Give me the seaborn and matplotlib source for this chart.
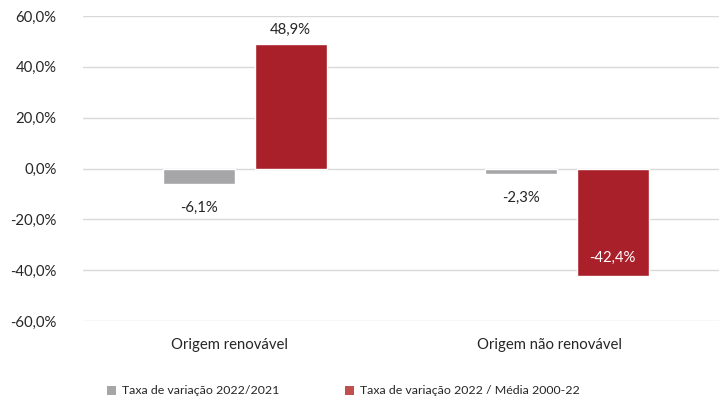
import pandas as pd
import numpy as np
import seaborn as sns
import matplotlib.pyplot as plt
from matplotlib.patches import Patch
from matplotlib.ticker import FuncFormatter

## data
categorias = ['Origem renovável', 'Origem não renovável']
series = ['Taxa de variação 2022/2021', 'Taxa de variação 2022 / Média 2000-22']
var_2022_2021 = [-6.1, -2.3]
var_2022_media = [48.9, -42.4]

df = pd.DataFrame({
    'categoria': categorias * 2,
    'serie': [series[0]] * 2 + [series[1]] * 2,
    'valor': var_2022_2021 + var_2022_media,
})

cores = {series[0]: '#A6A6A9', series[1]: '#A9202A'}
cores_legenda = [cores[series[0]], '#C0504D']

sns.set_theme(style='white')
plt.rcParams['font.family'] = ['Lato', 'DejaVu Sans']

fig = plt.figure(figsize=(7.19, 3.98), dpi=100)
ax = fig.add_axes([83 / 719, 1 - 321 / 398, 636 / 719, (321 - 16) / 398])

sns.barplot(data=df, x='categoria', y='valor', hue='serie', palette=cores,
            width=0.568, gap=0.213, saturation=1, order=categorias, hue_order=series,
            legend=False, ax=ax, zorder=3)

ax.set_xlim(-0.503, 1.472)
ax.set_ylim(-60, 60)
ax.set_yticks(np.arange(-60, 61, 20))
ax.yaxis.set_major_formatter(FuncFormatter(lambda v, p: f'{v:.1f}%'.replace('.', ',')))
# rótulos das categorias um pouco à esquerda do centro do grupo (como no original)
ax.set_xticks([-0.047, 0.947], categorias)
ax.grid(axis='y', color='#D9D9D9', linewidth=1, zorder=0)
for s in ax.spines.values():
    s.set_visible(False)
ax.tick_params(axis='both', length=0, labelsize=10.7, colors='#262626')
ax.tick_params(axis='y', pad=19)
ax.tick_params(axis='x', pad=12)
ax.set_xlabel('')
ax.set_ylabel('')

# rótulos
for cont, serie in zip(ax.containers, series):
    for bar in cont:
        h = bar.get_height()
        xc = bar.get_x() + bar.get_width() / 2
        txt = f'{h:.1f}%'.replace('.', ',')
        if h >= 0:
            ax.text(xc, h + 5.8, txt, ha='center', va='center', fontsize=10.7, color='#262626')
        elif h > -20:
            ax.text(xc, h - 9.3, txt, ha='center', va='center', fontsize=10.7, color='#262626')
        else:
            ax.text(xc, h + 7.3, txt, ha='center', va='center', fontsize=10.7, color='white')

handles = [Patch(facecolor=c, edgecolor='none') for c in cores_legenda]
fig.legend(handles, series, loc='center left', bbox_to_anchor=(96 / 719, 1 - 391 / 398),
           ncol=2, frameon=False, fontsize=8.9, handlelength=0.7, handleheight=0.7,
           handletextpad=0.5, columnspacing=5.3, labelcolor='#262626')

fig.savefig('out.png', dpi=100)
